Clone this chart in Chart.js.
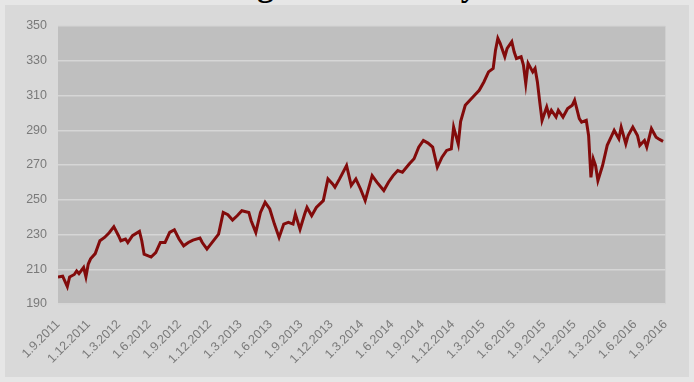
<!DOCTYPE html>
<html>
<head>
<meta charset="utf-8">
<script src="https://cdn.jsdelivr.net/npm/chart.js@4.4.1/dist/chart.umd.min.js"></script>
<style>
  html, body { margin: 0; padding: 0; }
  body { width: 694px; height: 382px; background: #e6e6e6; position: relative; overflow: hidden; }
  #title {
    position: absolute; left: 0; width: 694px; top: -31px; text-align: center;
    font: bold 33px "Liberation Serif", serif; line-height: 33px; color: #000;
    padding-right: 66px; box-sizing: border-box;
  }
  #card { position: absolute; left: 5px; top: 5px; width: 684px; height: 372px; background: #d9d9d9; }
</style>
</head>
<body>
<div id="title">Exchange Rate History</div>
<div id="card"><canvas id="rate_chart" width="684" height="372"></canvas></div>
<script>
// quarterly tick labels along the bottom axis
var tickLabels = ['1.9.2011', '1.12.2011', '1.3.2012', '1.6.2012', '1.9.2012', '1.12.2012',
    '1.3.2013', '1.6.2013', '1.9.2013', '1.12.2013', '1.3.2014', '1.6.2014', '1.9.2014',
    '1.12.2014', '1.3.2015', '1.6.2015', '1.9.2015', '1.12.2015', '1.3.2016', '1.6.2016', '1.9.2016'];

// week number since 1.9.2011
var weeks = [0, 2, 4, 5, 7, 8, 9, 11, 12, 13, 14, 16, 18, 20, 22, 24, 26, 27, 29, 30,
    32, 35, 36, 37, 40, 42, 44, 46, 48, 50, 52, 54, 56, 58, 61, 62, 64, 67, 69, 71,
    73, 75, 77, 79, 82, 83, 85, 87, 89, 91, 93, 95, 97, 99, 101, 102, 104, 106, 107, 109,
    111, 114, 116, 118, 119, 121, 124, 126, 128, 130, 132, 135, 137, 140, 142, 144, 146, 148, 151, 153,
    155, 157, 159, 161, 163, 165, 167, 169, 170, 172, 173, 175, 177, 179, 181, 183, 185, 187, 188, 189,
    190, 192, 193, 195, 196, 197, 199, 200, 201, 202, 204, 205, 206, 207, 208, 210, 211, 212, 214, 215,
    217, 219, 221, 222, 224, 225, 227, 228, 229, 230, 231, 232, 234, 236, 238, 239, 241, 242, 244, 245,
    247, 249, 250, 252, 253, 255, 257, 258, 260];

var rate = [205.6, 206, 200, 205.6, 207, 209, 207.5, 211, 205.6, 213, 216, 219, 226.4, 228.3, 231, 234.5, 229.3, 226.4, 227.4, 225.4,
    229.3, 231.8, 226.4, 218.7, 217, 219.6, 225.4, 225.4, 231.2, 232.7, 227.4, 223.5, 225.4, 226.8, 228, 225.4, 221.6, 226.8, 230.2, 242.7,
    241.4, 238.3, 240.8, 243.7, 242.7, 237.9, 231.2, 242.7, 248.5, 244.7, 236, 228.3, 236, 237, 236, 241.8, 233, 241.8, 245.6, 240.8,
    245.6, 249.5, 262, 259.1, 257.2, 262, 269.7, 258.2, 262, 256.2, 249.5, 263.9, 260.1, 255.3, 260.1, 263.9, 266.8, 265.8, 270.7, 273.6,
    280.3, 284.1, 282.6, 280.3, 268.7, 274.5, 278.4, 279.3, 291.8, 282, 295, 304.4, 307.3, 310.1, 313, 317.8, 323.6, 325.6, 336.1, 342.9,
    340, 332.3, 337.1, 341, 335.2, 331.3, 332.3, 327.5, 316.9, 328.5, 323.6, 325.6, 317.8, 306.3, 295.7, 303.4, 298.6, 301.5, 297.6, 301.5,
    297.6, 302.5, 304.4, 307.3, 296.7, 294.7, 295.7, 287, 262.9, 273.6, 269.7, 261, 269.7, 281.3, 287, 289.9, 285.1, 291.8, 282.2, 287,
    291.8, 287, 281.3, 284.1, 280.3, 290.9, 286, 285.1, 283.6];

var yTicks = [190, 210, 230, 250, 270, 290, 310, 330, 350];
var X_MAX = 261;

var points = [];
for (var i = 0; i < weeks.length; i++) {
    points.push({ x: weeks[i], y: rate[i] });
}

// grey plot background behind the grid
var plotBackground = {
    id: 'plotBackground',
    beforeDraw: function (chart) {
        var a = chart.chartArea, c = chart.ctx;
        c.save();
        c.fillStyle = '#bfbfbf';
        c.fillRect(a.left, a.top, a.right - a.left, a.bottom - a.top);
        c.restore();
    }
};

var tickFont = { family: 'Liberation Sans', size: 12.5 };

var ctx = document.getElementById('rate_chart').getContext('2d');
var rateChart = new Chart(ctx, {
    type: 'line',
    data: {
        datasets: [{
            data: points,
            borderColor: '#820b0b',
            borderWidth: 3,
            pointRadius: 0,
            tension: 0,
            fill: false
        }]
    },
    options: {
        responsive: false,
        animation: false,
        layout: { padding: { top: 21, right: 17, left: 0, bottom: 0 } },
        plugins: { legend: { display: false }, tooltip: { enabled: false } },
        scales: {
            x: {
                type: 'linear',
                min: 0,
                max: X_MAX,
                afterBuildTicks: function (scale) {
                    scale.ticks = tickLabels.map(function (l, i) {
                        return { value: i * X_MAX / (tickLabels.length - 1) };
                    });
                },
                afterFit: function (scale) { scale.height = 73; },
                grid: { display: false, drawTicks: false },
                border: { display: false },
                ticks: {
                    autoSkip: false,
                    minRotation: 45,
                    maxRotation: 45,
                    padding: 13,
                    color: '#7a7a7a',
                    font: tickFont,
                    callback: function (v, i) { return tickLabels[i]; }
                }
            },
            y: {
                min: yTicks[0],
                max: yTicks[yTicks.length - 1],
                afterBuildTicks: function (scale) {
                    scale.ticks = yTicks.map(function (v) { return { value: v }; });
                },
                afterFit: function (scale) { scale.width = 53; },
                grid: { color: '#d6d6d6', lineWidth: 1.5, drawTicks: false },
                border: { display: false },
                ticks: {
                    padding: 11,
                    color: '#7a7a7a',
                    font: tickFont
                }
            }
        }
    },
    plugins: [plotBackground]
});
</script>
</body>
</html>
